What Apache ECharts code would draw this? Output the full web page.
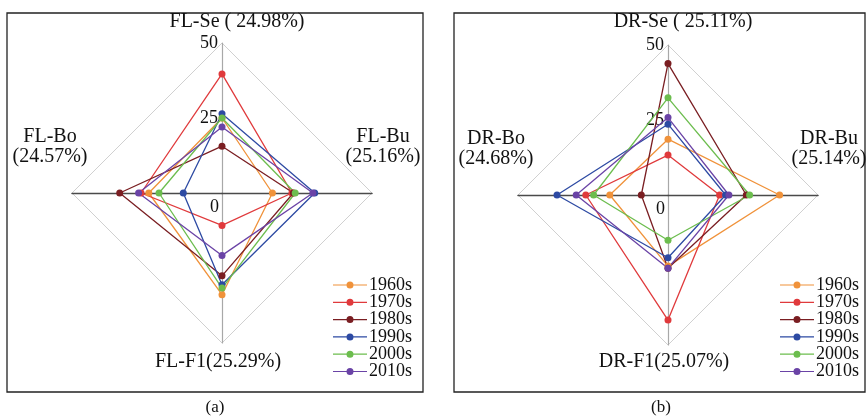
<!DOCTYPE html>
<html>
<head>
<meta charset="utf-8">
<script src="https://cdn.jsdelivr.net/npm/echarts@6/dist/echarts.min.js"></script>
<style>
  html, body { margin: 0; padding: 0; background: #fff; }
  #chart { width: 867px; height: 419px; }
</style>
</head>
<body>
<div id="chart"></div>
<script>
// indicator order follows radar (counter-clockwise from top): Se, Bo, F1, Bu
const decades = ['1960s', '1970s', '1980s', '1990s', '2000s', '2010s'];
const colors = ['#f0923a', '#e03a3c', '#7a1e22', '#2d4aa3', '#6cbd4e', '#6a43a6'];
const tickLabels = ['0', '25', '50'];

const flNames = ['FL-Se ( 24.98%)', 'FL-Bo\n(24.57%)', 'FL-F1(25.29%)', 'FL-Bu\n(25.16%)'];
const drNames = ['DR-Se ( 25.11%)', 'DR-Bo\n(24.68%)', 'DR-F1(25.07%)', 'DR-Bu\n(25.14%)'];

const flValues = [
  [25.0, 24.4, 33.9, 16.8],
  [39.7, 27.0, 10.8, 23.3],
  [15.6, 34.1, 27.6, 23.8],
  [26.4, 12.9, 30.6, 30.9],
  [25.0, 21.0, 31.7, 24.4],
  [22.0, 27.8, 20.8, 30.3]
];
const drValues = [
  [18.6, 19.4, 23.7, 37.2],
  [13.3, 27.4, 41.7, 17.2],
  [43.8, 8.9, 24.4, 26.1],
  [23.6, 37.0, 20.9, 19.2],
  [32.4, 24.8, 15.1, 27.2],
  [25.8, 30.6, 24.4, 20.3]
];

const serif = "'Liberation Serif', 'Times New Roman', serif";
const chart = echarts.init(document.getElementById('chart'));

function makeRadar(center) {
  return {
    center: center,
    radius: 150,
    startAngle: 90,
    shape: 'polygon',
    splitNumber: 1,
    indicator: [0, 1, 2, 3].map(() => ({ max: 50, min: 0 })),
    axisName: { show: false },
    axisLine: { lineStyle: { color: '#a8a8a8', width: 1.2 } },
    axisTick: { show: false },
    axisLabel: { show: false },
    splitLine: { lineStyle: { color: '#d0d0d0', width: 1 } },
    splitArea: { show: false }
  };
}

// darker horizontal axis drawn by a two-axis radar on the same centre
function makeHorizontal(center) {
  return {
    center: center,
    radius: 150,
    startAngle: 0,
    shape: 'polygon',
    splitNumber: 1,
    indicator: [{ max: 50, min: 0 }, { max: 50, min: 0 }],
    axisName: { show: false },
    axisLine: { lineStyle: { color: '#4a4a4a', width: 1.3 } },
    axisTick: { show: false },
    axisLabel: { show: false },
    splitLine: { show: false },
    splitArea: { show: false },
    z: 1
  };
}

function makeSeries(values, radarIndex) {
  return values.map((v, i) => ({
    type: 'radar',
    name: decades[i],
    radarIndex: radarIndex,
    symbol: 'circle',
    symbolSize: 7,
    z: 3,
    lineStyle: { width: 1.3, color: colors[i] },
    itemStyle: { color: colors[i] },
    data: [{ value: v, name: decades[i] }]
  }));
}

const legendIcon = 'path://M0,3.4 H34 V4.6 H0 Z M13.5,4 A3.5,3.5 0 1 1 20.5,4 A3.5,3.5 0 1 1 13.5,4 Z';

function makeLegend(left) {
  return {
    data: decades,
    orient: 'vertical',
    left: left,
    top: 271,
    icon: legendIcon,
    itemWidth: 34,
    itemHeight: 8,
    itemGap: -0.7,
    selectedMode: false,
    textStyle: { fontFamily: serif, fontSize: 18, color: '#111', lineHeight: 17, padding: [0, 0, 0, -3] }
  };
}

function txt(text, x, y, align, size) {
  return {
    type: 'text', x: x, y: y,
    style: { text: text, fontFamily: serif, fontSize: size || 20, fill: '#111', align: align || 'center', verticalAlign: 'middle', lineHeight: 20 }
  };
}

function nameTexts(names, cx, cy) {
  return [
    txt(names[0], cx + 15, 22),
    txt(names[1], cx - 172, cy - 46),
    txt(names[2], cx - 4, 362),
    txt(names[3], cx + 161, cy - 46)
  ];
}

function tickTexts(cx, cy) {
  return [
    txt(tickLabels[0], cx - 3, cy + 14, 'right', 18),
    txt(tickLabels[1], cx - 4, cy - 75, 'right', 18),
    txt(tickLabels[2], cx - 4, cy - 150, 'right', 18)
  ];
}

const boxStyle = { fill: 'none', stroke: '#222', lineWidth: 1.3 };

chart.setOption({
  animation: false,
  backgroundColor: '#fff',
  legend: [makeLegend(328), makeLegend(775)],
  radar: [makeRadar([222, 193]), makeRadar([668, 195]), makeHorizontal([222, 193]), makeHorizontal([668, 195])],
  series: makeSeries(flValues, 0).concat(makeSeries(drValues, 1)),
  graphic: [
    { type: 'rect', shape: { x: 7, y: 13, width: 416, height: 379 }, style: boxStyle, z: -1 },
    { type: 'rect', shape: { x: 454, y: 13, width: 411, height: 379 }, style: boxStyle, z: -1 },
    txt('(a)', 215, 408, 'center', 17),
    txt('(b)', 661, 408, 'center', 17)
  ].concat(nameTexts(flNames, 222, 193), tickTexts(222, 193), nameTexts(drNames, 668, 195), tickTexts(668, 195))
});
</script>
</body>
</html>
